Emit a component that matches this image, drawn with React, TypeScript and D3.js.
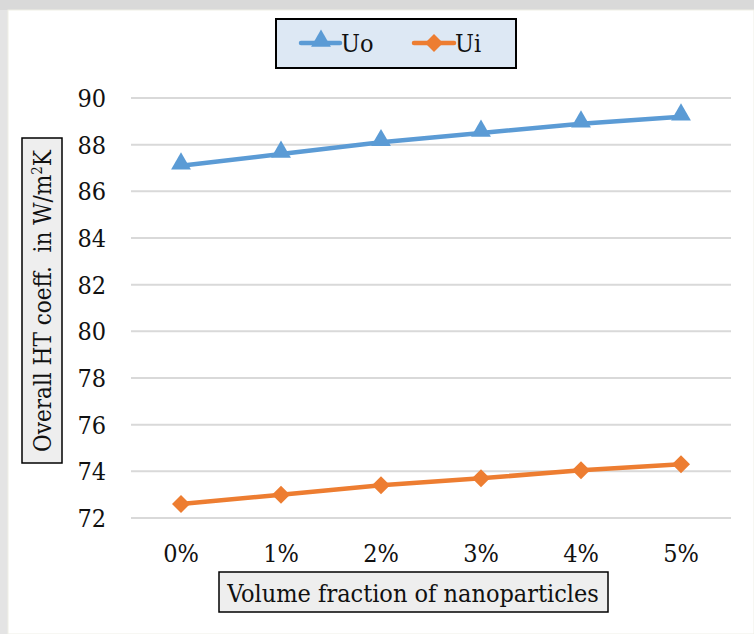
import React from "react";
import * as d3 from "d3";

const categories = ["0%", "1%", "2%", "3%", "4%", "5%"];
const uoValues = [87.1, 87.6, 88.1, 88.5, 88.9, 89.2];
const uiValues = [72.6, 73.0, 73.4, 73.7, 74.05, 74.3];
const yTicks = [72, 74, 76, 78, 80, 82, 84, 86, 88, 90];
const seriesNames = ["Uo", "Ui"];

const W = 754;
const H = 634;
const FONT = "'DejaVu Serif Condensed', 'DejaVu Serif', serif";
const FS = 25;

export default function App() {
  const x = d3.scaleBand<string>().domain(categories).range([131, 731]);
  const y = d3.scaleLinear().domain([72, 90]).range([518, 98]);
  const cx = (c: string) => (x(c) as number) + x.bandwidth() / 2;
  const line = d3
    .line<number>()
    .x((_, i) => cx(categories[i]))
    .y((v) => y(v));
  const blue = "#5b9bd5";
  const orange = "#ed7d31";
  const tri = d3.symbol().type(d3.symbolTriangle).size(170)();
  const dia = (s: number) => `M0,${-s}L${s},0L0,${s}L${-s},0Z`;

  return (
    <svg
      width={W}
      height={H}
      style={{ position: "absolute", left: 0, top: 0, fontStretch: "condensed" }}
      fontFamily={FONT}
    >
      <rect width={W} height={H} fill="#e4e4e4" />
      <rect width={W} height={10} fill="#d9d9d9" />
      <rect x={8} y={10} width={W - 8} height={H - 10} fill="#ffffff" stroke="#efefe6" strokeWidth={1} />

      {/* gridlines */}
      {yTicks.map((t) => (
        <line key={t} x1={131} x2={731} y1={y(t)} y2={y(t)} stroke="#d9d9d9" strokeWidth={2} />
      ))}
      {/* y tick labels */}
      {yTicks.map((t) => (
        <text key={t} x={106} y={y(t)} dy="0.36em" textAnchor="end" fontSize={FS} fill="#111">
          {t}
        </text>
      ))}
      {/* x tick labels */}
      {categories.map((c) => (
        <text key={c} x={cx(c)} y={562} textAnchor="middle" fontSize={FS} fill="#111">
          {c}
        </text>
      ))}

      {/* series */}
      <path d={line(uoValues) || ""} fill="none" stroke={blue} strokeWidth={4.5} strokeLinecap="round" />
      {uoValues.map((v, i) => (
        <path key={i} d={tri || ""} transform={`translate(${cx(categories[i])},${y(v) - 2})`} fill={blue} />
      ))}
      <path d={line(uiValues) || ""} fill="none" stroke={orange} strokeWidth={4.5} strokeLinecap="round" />
      {uiValues.map((v, i) => (
        <path key={i} d={dia(9)} transform={`translate(${cx(categories[i])},${y(v)})`} fill={orange} />
      ))}

      {/* legend */}
      <rect x={276} y={19} width={240} height={49} fill="#dde8f4" stroke="#000" strokeWidth={2} />
      <line x1={301} x2={340} y1={43} y2={43} stroke={blue} strokeWidth={4.5} strokeLinecap="round" />
      <path d={tri || ""} transform={`translate(321,41)`} fill={blue} />
      <text x={341} y={43} dy="0.36em" fontSize={FS} fill="#111">{seriesNames[0]}</text>
      <line x1={414} x2={454} y1={43} y2={43} stroke={orange} strokeWidth={4.5} strokeLinecap="round" />
      <path d={dia(9)} transform={`translate(434,43)`} fill={orange} />
      <text x={455} y={43} dy="0.36em" fontSize={FS} fill="#111">{seriesNames[1]}</text>

      {/* y axis title */}
      <rect x={22} y={138} width={40} height={325} fill="#eeeeee" stroke="#000" strokeWidth={1.5} />
      <text
        transform={`translate(51,301) rotate(-90)`}
        textAnchor="middle"
        fontSize={24}
        fill="#111"
      >
        {"Overall HT coeff.\u00a0 in W/m"}<tspan dy={-9} fontSize={15}>2</tspan><tspan dy={9}>K</tspan>
      </text>

      {/* x axis title */}
      <rect x={219} y={572} width={389} height={40} fill="#eeeeee" stroke="#000" strokeWidth={1.5} />
      <text x={413} y={602} textAnchor="middle" fontSize={FS} fill="#111">
        Volume fraction of nanoparticles
      </text>
    </svg>
  );
}
